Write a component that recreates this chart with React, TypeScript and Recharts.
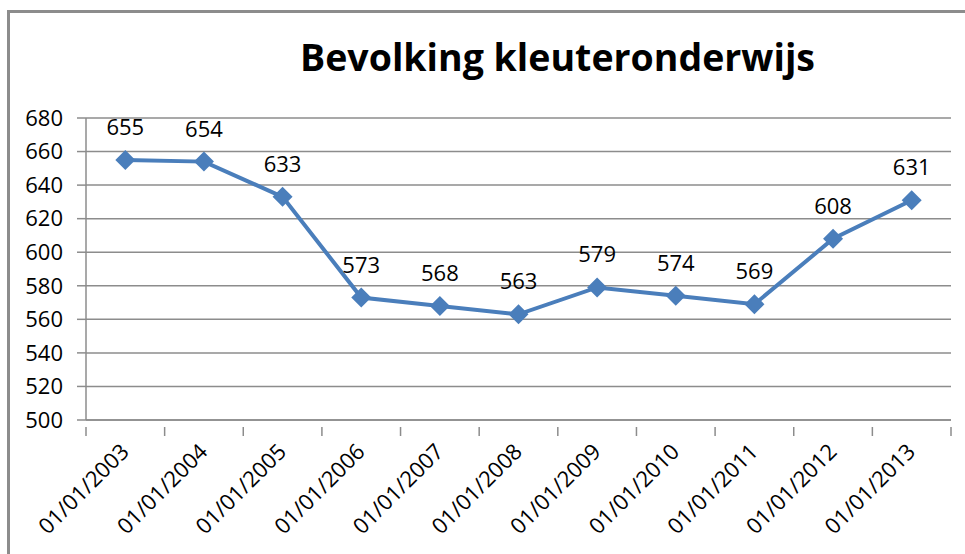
import React from 'react'
import { LineChart, Line, XAxis, YAxis, CartesianGrid, LabelList } from 'recharts'

const dates = ['01/01/2003', '01/01/2004', '01/01/2005', '01/01/2006', '01/01/2007', '01/01/2008', '01/01/2009', '01/01/2010', '01/01/2011', '01/01/2012', '01/01/2013']
const leerlingen = [655, 654, 633, 573, 568, 563, 579, 574, 569, 608, 631]
const yTicks = [500, 520, 540, 560, 580, 600, 620, 640, 660, 680]

const data = dates.map((d, i) => ({ i, date: d, value: leerlingen[i] }))

const BLUE = '#4A7EBB'
const GRID = '#8C8C8C'
const FONT = '"Open Sans", sans-serif'

const W = 965
const H = 554
const LEFT = 86
const RIGHT = 14
const band = (W - LEFT - RIGHT) / dates.length

function Diamond(props: any) {
  const { cx, cy } = props
  if (cx == null || cy == null) return null
  const r = 10
  return <polygon points={`${cx},${cy - r} ${cx + r},${cy} ${cx},${cy + r} ${cx - r},${cy}`} fill={BLUE} />
}

function DateTick(props: any) {
  const { x, y, payload, index } = props
  const last = index === dates.length - 1
  return (
    <g>
      <line x1={x - band / 2} y1={y - 1} x2={x - band / 2} y2={y + 8} stroke={GRID} strokeWidth={1.5} />
      {last && <line x1={x + band / 2} y1={y - 1} x2={x + band / 2} y2={y + 8} stroke={GRID} strokeWidth={1.5} />}
      <text x={x + 5} y={y + 25} textAnchor="end" transform={`rotate(-45, ${x + 5}, ${y + 25})`}
        fontSize={22} fontFamily={FONT} fill="#000">
        {dates[payload.value]}
      </text>
    </g>
  )
}

export default function App() {
  return (
    <div style={{ position: 'absolute', left: 0, top: 0, width: W, height: H, background: '#fff', overflow: 'hidden' }}>
      <div style={{ position: 'absolute', left: 7, top: 10, width: W + 20, height: H + 20, borderLeft: `3px solid ${GRID}`, borderTop: `3px solid ${GRID}` }} />
      <div style={{ position: 'absolute', left: 300, top: 31, whiteSpace: 'nowrap',
        fontFamily: FONT, fontWeight: 700, fontSize: 37.5, color: '#000' }}>
        Bevolking kleuteronderwijs
      </div>
      <LineChart width={W} height={H} data={data} margin={{ top: 118, right: RIGHT, left: 0, bottom: 0 }}
        style={{ position: 'absolute', left: 0, top: 0 }}>
        <CartesianGrid vertical={false} stroke={GRID} strokeWidth={1.5} />
        <XAxis dataKey="i" type="number" domain={[-0.5, dates.length - 0.5]} ticks={dates.map((_, i) => i)}
          height={134} interval={0} tickLine={false} axisLine={{ stroke: GRID, strokeWidth: 1.5 }}
          tick={<DateTick />} />
        <YAxis domain={[500, 680]} ticks={yTicks} width={LEFT} interval={0} tickSize={9} tickMargin={14}
          axisLine={{ stroke: GRID, strokeWidth: 1.5 }} tickLine={{ stroke: GRID, strokeWidth: 1.5 }}
          tick={{ fontSize: 22, fontFamily: FONT, fill: '#000' }} />
        <Line dataKey="value" stroke={BLUE} strokeWidth={4} dot={<Diamond />} activeDot={false} isAnimationActive={false}>
          <LabelList dataKey="value" position="top" offset={25} fontSize={22} fontFamily={FONT} fill="#000" />
        </Line>
      </LineChart>
    </div>
  )
}
